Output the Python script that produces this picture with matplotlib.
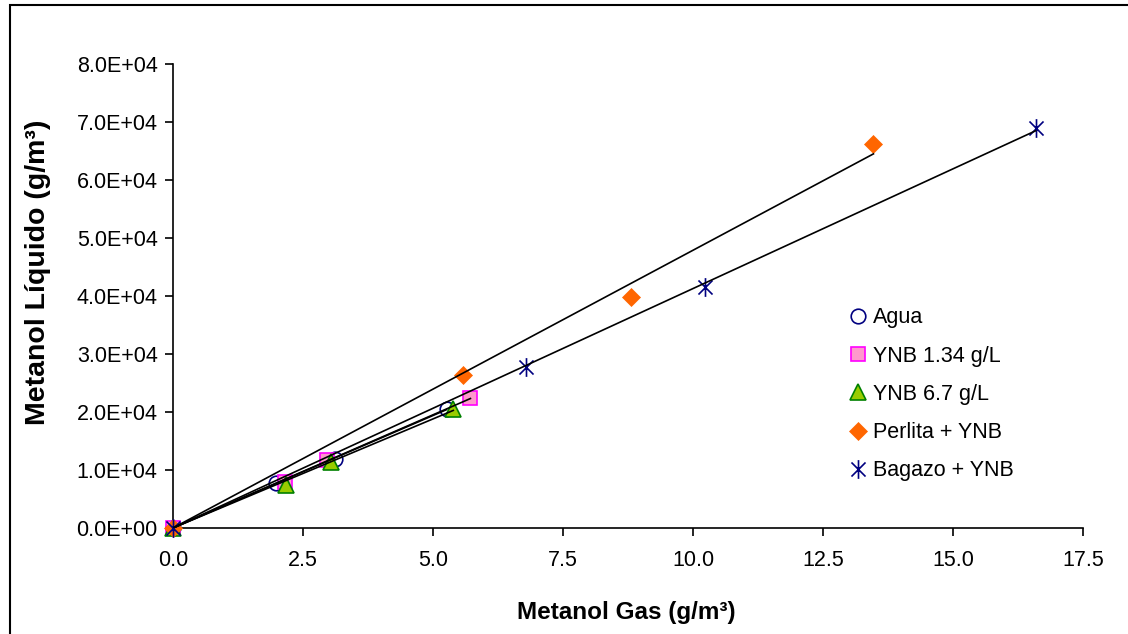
import numpy as np
import matplotlib.pyplot as plt
from matplotlib.path import Path
from matplotlib.patches import Rectangle
from matplotlib.ticker import FormatStrFormatter

plt.rcParams['font.family'] = ['Liberation Sans', 'DejaVu Sans']

# Data (gas, liquid) per series.
agua_x = [0.0, 1.99, 3.12, 5.26]
agua_y = [0.0, 7800., 11900., 20500.]
ynb134_x = [0.0, 2.15, 2.97, 5.72]
ynb134_y = [0.0, 7900., 11800., 22400.]
ynb67_x = [0.0, 2.17, 3.04, 5.39]
ynb67_y = [0.0, 7400., 11400., 20600.]
perlita_x = [0.0, 5.58, 8.81, 13.47]
perlita_y = [0.0, 26400., 39800., 66200.]
bagazo_x = [0.0, 6.79, 10.24, 16.59]
bagazo_y = [0.0, 27800., 41600., 69000.]

labels = ['Agua', 'YNB 1.34 g/L', 'YNB 6.7 g/L', 'Perlita + YNB', 'Bagazo + YNB']

# Excel-like star: vertical stroke plus an X
star = Path([(0, -1), (0, 1), (-0.75, -0.75), (0.75, 0.75), (-0.75, 0.75), (0.75, -0.75)],
            [Path.MOVETO, Path.LINETO, Path.MOVETO, Path.LINETO, Path.MOVETO, Path.LINETO])

styles = [
    dict(marker='o', ms=10.5, mfc='none', mec='#000080', mew=1.2),
    dict(marker='s', ms=10.5, mfc='#FF99CC', mec='#FF00FF', mew=1.2),
    dict(marker='^', ms=11.5, mfc='#99CC00', mec='#008000', mew=1.2),
    dict(marker='D', ms=9, mfc='#FF6600', mec='#FF6600', mew=0.5),
    dict(marker=star, ms=13.5, mfc='none', mec='#000080', mew=1.2),
]
series = [(agua_x, agua_y), (ynb134_x, ynb134_y), (ynb67_x, ynb67_y),
          (perlita_x, perlita_y), (bagazo_x, bagazo_y)]

fig = plt.figure(figsize=(11.28, 6.34), dpi=100)
fig.patches.append(Rectangle((10 / 1128., -0.01), 1.1, 1.0 - 5 / 634. + 0.01,
                             transform=fig.transFigure, fill=False, ec='black', lw=1.5))
ax = fig.add_axes([173 / 1128., 1 - 528 / 634., 910 / 1128., 464 / 634.])

for (x, y), st, lab in zip(series, styles, labels):
    x = np.array(x)
    y = np.array(y)
    ax.plot(x, y, ls='none', label=lab, zorder=3, clip_on=False, **st)
    # linear trendline through the origin, drawn up to the last point
    slope = np.sum(x * y) / np.sum(x * x)
    xx = np.array([0.0, x.max()])
    ax.plot(xx, slope * xx, color='black', lw=1.2, zorder=4)

ax.set_xlim(0, 17.5)
ax.set_ylim(0, 80000)
ax.set_xticks(np.arange(0, 17.6, 2.5))
ax.set_yticks(np.arange(0, 80001, 10000))
ax.xaxis.set_major_formatter(FormatStrFormatter('%.1f'))
ax.yaxis.set_major_formatter(FormatStrFormatter('%.1E'))
for s in ['top', 'right']:
    ax.spines[s].set_visible(False)
for s in ['left', 'bottom']:
    ax.spines[s].set_linewidth(1.2)
ax.tick_params(direction='out', length=6, width=1.2, labelsize=15.5)
ax.tick_params(axis='x', pad=10)
ax.tick_params(axis='y', pad=5)

ax.set_xlabel('Metanol Gas (g/m³)', fontsize=17.5, fontweight='bold', va='center')
ax.set_ylabel('Metanol Líquido (g/m³)', fontsize=20.5, fontweight='bold', va='center')
ax.xaxis.set_label_coords(0.498, -0.183)
ax.yaxis.set_label_coords(-0.148, 0.55)

ax.legend(loc='upper left', bbox_to_anchor=(0.731, 0.494), frameon=False, fontsize=15.5,
          labelspacing=0.8, handletextpad=0.2, handlelength=1.0, markerscale=1.0,
          borderaxespad=0)

fig.savefig('out.png', dpi=100)
